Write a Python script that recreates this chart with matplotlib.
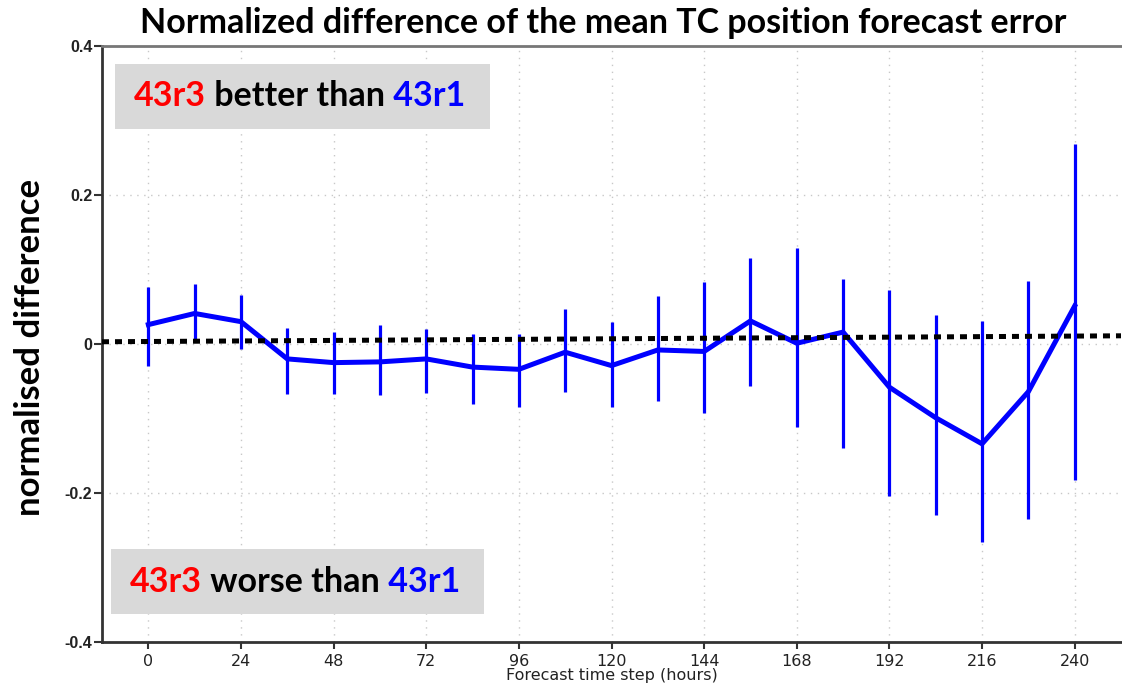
import matplotlib.pyplot as plt
from matplotlib.text import Annotation
import numpy as np

# forecast steps (hours) and normalised difference with its uncertainty range
steps = [0, 12, 24, 36, 48, 60, 72, 84, 96, 108, 120, 132, 144, 156, 168, 180, 192, 204, 216, 228, 240]
mean_diff = [0.026, 0.041, 0.030, -0.020, -0.025, -0.024, -0.020, -0.031, -0.034, -0.011, -0.029,
             -0.008, -0.010, 0.031, 0.001, 0.016, -0.058, -0.099, -0.134, -0.064, 0.051]
upper = [0.076, 0.081, 0.066, 0.022, 0.016, 0.025, 0.020, 0.013, 0.014, 0.047, 0.029,
         0.065, 0.083, 0.116, 0.129, 0.087, 0.072, 0.039, 0.031, 0.085, 0.268]
lower = [-0.029, 0.004, -0.007, -0.067, -0.067, -0.069, -0.066, -0.081, -0.085, -0.065, -0.084,
         -0.077, -0.092, -0.057, -0.112, -0.140, -0.204, -0.229, -0.266, -0.235, -0.183]

# hand-drawn reference line (slightly tilted in the original)
ref_x = [-12, 252]
ref_y = [0.003, 0.011]

x_ticks = [0, 24, 48, 72, 96, 120, 144, 168, 192, 216, 240]
y_ticks = [-0.4, -0.2, 0, 0.2, 0.4]
y_tick_labels = ["-0.4", "-0.2", "0", "0.2", "0.4"]

title = "Normalized difference of the mean TC position forecast error"
new_cycle = "43r3"
old_cycle = "43r1"

W, H = 1122, 687
fig = plt.figure(figsize=(W / 100, H / 100), dpi=100)
ax = fig.add_axes([102 / W, 1 - 642 / H, (1121 - 102) / W, (642 - 46) / H])

ax.set_xlim(-12, 252)
ax.set_ylim(-0.4, 0.4)

# grid
ax.grid(True, color="#c8c8c8", linestyle=(0, (1, 4)), linewidth=1.0)
ax.set_axisbelow(True)

# error bars
ax.vlines(steps, lower, upper, color="#0000ff", linewidth=2.3, zorder=3)
# mean line
ax.plot(steps, mean_diff, color="#0000ff", linewidth=3.6, zorder=4, solid_joinstyle="miter")
# zero reference
ax.plot(ref_x, ref_y, color="black", linewidth=3.6, linestyle=(0, (1.4, 1.2)), zorder=5)

ax.set_xticks(x_ticks)
ax.set_xticklabels([str(t) for t in x_ticks], fontsize=11.5, family=["Liberation Sans Narrow", "DejaVu Sans"])
ax.set_yticks(y_ticks)
ax.set_yticklabels(y_tick_labels, fontsize=11.5, fontweight="bold", family=["Liberation Sans", "DejaVu Sans"])
ax.tick_params(axis="both", direction="out", length=6, width=1.5, color="#333333", labelcolor="#222222")
ax.tick_params(axis="x", length=5, pad=4)
ax.tick_params(axis="y", pad=1)

for side in ["left", "bottom", "top"]:
    ax.spines[side].set_linewidth(2)
    ax.spines[side].set_color("#333333")
ax.spines["top"].set_color("#777777")
ax.spines["right"].set_visible(False)

ax.set_xlabel("Forecast time step (hours)", fontsize=11.5, family=["Liberation Sans Narrow", "DejaVu Sans"],
              labelpad=-1, color="#222222")
fig.text(30 / W, 1 - 347 / H, "normalised difference", rotation=90, ha="center", va="center",
         fontsize=25, fontweight="bold", family=["Lato", "DejaVu Sans"])
fig.text(603 / W, 1 - 23 / H, title, ha="center", va="center",
         fontsize=24.5, fontweight="bold", family=["Lato", "DejaVu Sans"])


def label_box(x0, y0, x1, y1, middle):
    # grey box in figure pixels, text pieces chained left to right
    fig.patches.append(plt.Rectangle((x0 / W, 1 - y1 / H), (x1 - x0) / W, (y1 - y0) / H,
                                     transform=fig.transFigure, facecolor="#d9d9d9",
                                     edgecolor="none", zorder=6))
    kw = dict(fontsize=24.5, fontweight="bold", family=["Lato", "DejaVu Sans"], zorder=7)
    t1 = fig.text((x0 + 19) / W, 1 - (y0 + y1) / 2 / H, new_cycle, color="#ff0000",
                  va="center", ha="left", **kw)
    t2 = Annotation(middle, xy=(1, 0), xycoords=t1, va="bottom", ha="left", color="black", **kw)
    fig.add_artist(t2)
    t3 = Annotation(" " + old_cycle, xy=(1, 0), xycoords=t2, va="bottom", ha="left",
                    color="#0000ff", **kw)
    fig.add_artist(t3)


label_box(115, 64, 490, 129, " better than")
label_box(111, 549, 484, 614, " worse than")

fig.savefig("out.png", dpi=100)
